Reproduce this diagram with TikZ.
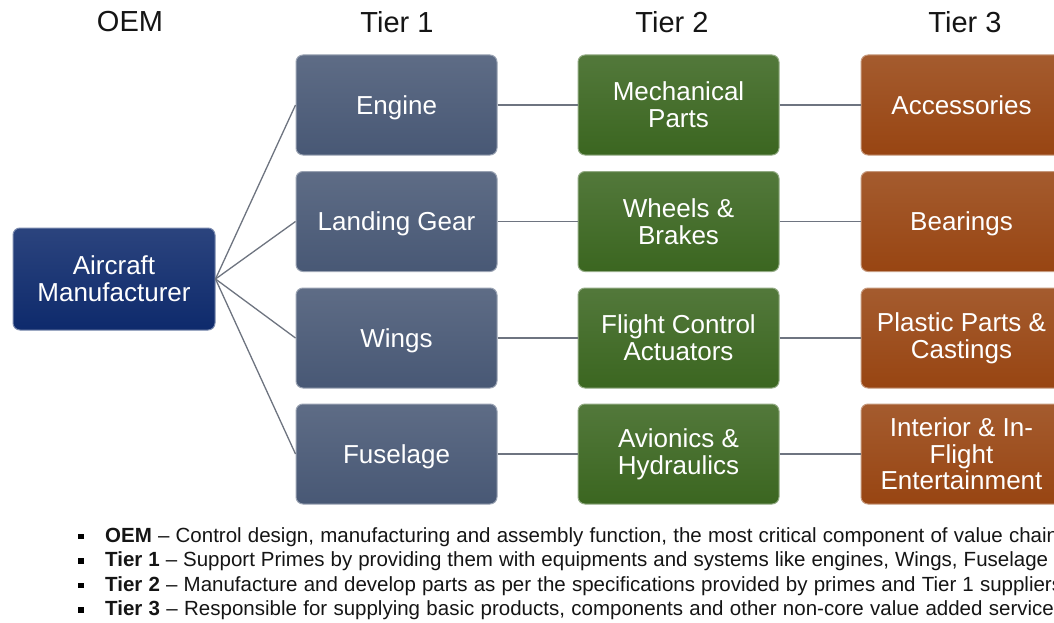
\documentclass[tikz,border=0pt]{standalone}
\usepackage{fontspec}
\setmainfont{Liberation Sans}
\definecolor{navy}{HTML}{0E2A6C}
\definecolor{slate}{HTML}{485875}
\definecolor{leaf}{HTML}{3B6620}
\definecolor{rust}{HTML}{984512}
\definecolor{conn}{HTML}{6E7480}
\definecolor{hdr}{HTML}{151515}
\newcommand{\nodep}[1]{\raisebox{0pt}[\height][0pt]{#1}}
\tikzset{
  box/.style={rounded corners=7pt, minimum width=201pt, minimum height=100pt,
    inner sep=0pt, text=white, align=center,
    font=\fontsize{26}{27}\selectfont,
    draw=#1!55!white, line width=1pt, top color=#1!88!white, bottom color=#1},
  hdrtext/.style={text=hdr, font=\fontsize{29}{30}\selectfont, inner sep=0pt},
  link/.style={draw=conn, line width=1.3pt},
  bullettext/.style={anchor=base west, inner sep=0pt, text=hdr, font=\fontsize{20.5}{21}\selectfont},
  bulletmark/.style={fill=black}
}
\begin{document}
\begin{tikzpicture}[x=1pt,y=-1pt]
\useasboundingbox (0,0) rectangle (1054,623);
\clip (0,0) rectangle (1054,623);
\fill[white] (0,0) rectangle (1054,623);
% headers
\node[hdrtext] (hoem) at (130,22) {OEM};
\node[hdrtext] (h1) at (397,22) {Tier 1};
\node[hdrtext] (h2) at (672,22) {Tier 2};
\node[hdrtext] (h3) at (965,22) {Tier 3};
% OEM
\node[box=navy, minimum width=202pt, minimum height=102pt] (oem) at (114,279) {Aircraft\\Manufacturer};
% tier 1
\node[box=slate] (t1a) at (396.5,105) {\nodep{Engine}};
\node[box=slate] (t1b) at (396.5,221.5) {\nodep{Landing Gear}};
\node[box=slate] (t1c) at (396.5,338) {\nodep{Wings}};
\node[box=slate] (t1d) at (396.5,454) {\nodep{Fuselage}};
% tier 2
\node[box=leaf] (t2a) at (678.5,105) {Mechanical\\Parts};
\node[box=leaf] (t2b) at (678.5,221.5) {Wheels \&\\Brakes};
\node[box=leaf] (t2c) at (678.5,338) {Flight Control\\Actuators};
\node[box=leaf] (t2d) at (678.5,454) {Avionics \&\\Hydraulics};
% tier 3
\node[box=rust] (t3a) at (961.5,105) {Accessories};
\node[box=rust] (t3b) at (961.5,221.5) {\nodep{Bearings}};
\node[box=rust] (t3c) at (961.5,338) {Plastic Parts \&\\Castings};
\node[box=rust, font=\fontsize{26}{26.5}\selectfont] (t3d) at (961.5,454) {Interior \& In-\\Flight\\Entertainment};
% connectors
\foreach \t in {t1a,t1b,t1c,t1d} \path[link] (oem.east) -- (\t.west);
\path[link] (t1a.east) -- (t2a.west);
\path[link] (t1b.east) -- (t2b.west);
\path[link] (t1c.east) -- (t2c.west);
\path[link] (t1d.east) -- (t2d.west);
\path[link] (t2a.east) -- (t3a.west);
\path[link] (t2b.east) -- (t3b.west);
\path[link] (t2c.east) -- (t3c.west);
\path[link] (t2d.east) -- (t3d.west);
% bullets
\fill[bulletmark] (78,533.5) rectangle (83.5,539);
\fill[bulletmark] (78,558) rectangle (83.5,563.5);
\fill[bulletmark] (78,582.5) rectangle (83.5,588);
\fill[bulletmark] (78,607) rectangle (83.5,612.5);
\node[bullettext] (b1) at (105,542) {\makebox[953pt][s]{\textbf{OEM} -- Control design, manufacturing and assembly function, the most critical component of value chain}};
\node[bullettext] (b2) at (105,566.5) {\makebox[943pt][s]{\textbf{Tier 1} -- Support Primes by providing them with equipments and systems like engines, Wings, Fuselage}};
\node[bullettext] (b3) at (105,591) {\makebox[957pt][s]{\textbf{Tier 2} -- Manufacture and develop parts as per the specifications provided by primes and Tier 1 suppliers}};
\node[bullettext] (b4) at (105,615.5) {\makebox[959pt][s]{\textbf{Tier 3} -- Responsible for supplying basic products, components and other non-core value added services}};
\end{tikzpicture}
\end{document}
